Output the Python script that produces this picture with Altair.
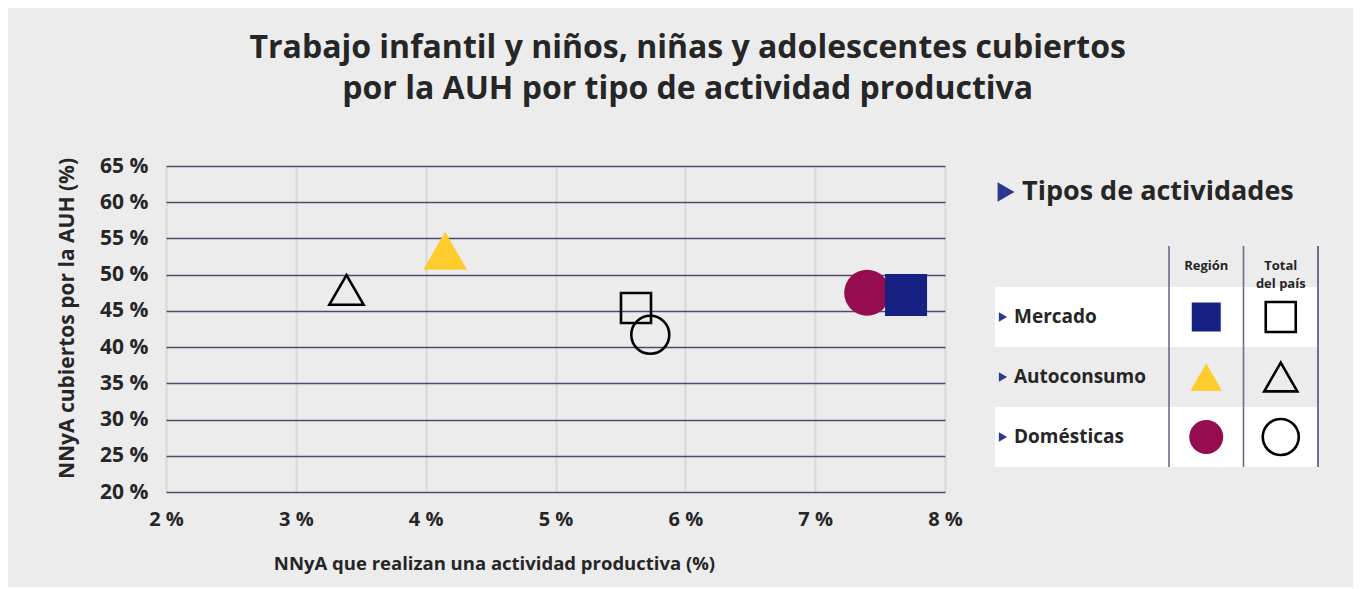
import altair as alt
import pandas as pd

# ---- data ----
tipos = ["Mercado", "Autoconsumo", "Domésticas"]
region_x = [7.70, 4.15, 7.40]
region_y = [47.2, 53.3, 47.5]
total_x = [5.62, 3.39, 5.73]
total_y = [45.4, 47.9, 41.7]
x_ticks = [2, 3, 4, 5, 6, 7, 8]
y_ticks = [20, 25, 30, 35, 40, 45, 50, 55, 60, 65]
columnas = ["Región", "Total|del país"]

titulo = ["Trabajo infantil y niños, niñas y adolescentes cubiertos",
          "por la AUH por tipo de actividad productiva"]
x_titulo = "NNyA que realizan una actividad productiva (%)"
y_titulo = "NNyA cubiertos por la AUH (%)"
leyenda_titulo = "Tipos de actividades"

# ---- styles ----
FONT = "Open Sans"
TXT = "#262626"
NAVY = "#2B3990"
BG = "#ececec"
shapes = ["square", "triangle-up", "circle"]
colores = ["#172083", "#FFCC2E", "#960C50"]
size_region = [1764, 2100, 1130]
size_total = [900, 1444, 960]
size_leg_region = [841, 1156, 804]
size_leg_total = [900, 1296, 908]

region_df = pd.DataFrame({"tipo": tipos, "x": region_x, "y": region_y}).iloc[::-1]
total_df = pd.DataFrame({"tipo": tipos, "x": total_x, "y": total_y})

W, H = 779, 326

xs = alt.Scale(domain=[x_ticks[0], x_ticks[-1]], nice=False, zero=False)
ys = alt.Scale(domain=[y_ticks[0], y_ticks[-1]], nice=False, zero=False)

xaxis = alt.Axis(values=x_ticks, labelExpr="datum.value + ' %'", title=x_titulo,
                 grid=True, gridColor="#d8d8d8", gridWidth=2, domain=False, ticks=False,
                 labelFlush=False,
                 labelFont=FONT, labelFontSize=20, labelFontWeight="bold", labelColor=TXT,
                 labelPadding=17, titleFont=FONT, titleFontSize=18.5, titleFontWeight="bold",
                 titleColor=TXT, titlePadding=25, titleX=328, titleAnchor="middle")
yaxis = alt.Axis(values=y_ticks, labelExpr="datum.value + ' %'", title=y_titulo,
                 grid=True, gridColor="#4d4b6b", gridWidth=1.5, domain=False, ticks=False,
                 labelFlush=False,
                 labelFont=FONT, labelFontSize=21, labelFontWeight="bold", labelColor=TXT,
                 labelPadding=18, titleFont=FONT, titleFontSize=21, titleFontWeight="bold",
                 titleColor=TXT, titlePadding=22, titleY=152, titleAlign="center")

shape_scale = alt.Scale(domain=tipos, range=shapes)

region_layer = alt.Chart(region_df).mark_point(filled=True, opacity=1).encode(
    x=alt.X("x:Q", scale=xs, axis=xaxis),
    y=alt.Y("y:Q", scale=ys, axis=yaxis),
    shape=alt.Shape("tipo:N", scale=shape_scale, legend=None),
    color=alt.Color("tipo:N", scale=alt.Scale(domain=tipos, range=colores), legend=None),
    size=alt.Size("tipo:N", scale=alt.Scale(domain=tipos, range=size_region), legend=None),
)
total_layer = alt.Chart(total_df).mark_point(filled=False, opacity=1, color="black",
                                             strokeWidth=2.6).encode(
    x=alt.X("x:Q", scale=xs, axis=xaxis),
    y=alt.Y("y:Q", scale=ys, axis=yaxis),
    shape=alt.Shape("tipo:N", scale=shape_scale, legend=None),
    size=alt.Size("tipo:N", scale=alt.Scale(domain=tipos, range=size_total), legend=None),
)
scatter = alt.layer(region_layer, total_layer).resolve_scale(
    size="independent").properties(width=W, height=H)

# ---- legend table panel ----
LW, LH = 323, 301
row_top, row_bot = 121, 301
xbs = alt.Scale(domain=columnas, range=[174, LW], paddingInner=0, paddingOuter=0)
ybs = alt.Scale(domain=tipos, range=[row_top, row_bot], paddingInner=0, paddingOuter=0)

filas_df = pd.DataFrame({"tipo": tipos, "fila": list(range(len(tipos)))})
cols_df = pd.DataFrame({"col": columnas})
leg_region_df = pd.DataFrame({"tipo": tipos, "col": columnas[0]})
leg_total_df = pd.DataFrame({"tipo": tipos, "col": columnas[1]})

fondo = alt.Chart(filas_df).mark_rect().encode(
    y=alt.Y("tipo:N", scale=ybs, axis=None),
    x=alt.value(0), x2=alt.value(LW),
    color=alt.condition("datum.fila % 2 == 0", alt.value("white"), alt.value(BG)),
)
lineas = alt.Chart(cols_df).mark_rule(color="#6d6b8c", strokeWidth=1.6).encode(
    x=alt.X("col:N", scale=xbs, axis=None, bandPosition=0),
    y=alt.value(80), y2=alt.value(LH),
)
linea_fin = alt.Chart(cols_df).mark_rule(color="#6d6b8c", strokeWidth=1.6).encode(
    x=alt.value(LW), y=alt.value(80), y2=alt.value(LH),
)
cabecera = alt.Chart(cols_df).transform_calculate(
    lineas="split(datum.col, '|')"
).mark_text(font=FONT, fontSize=13, fontWeight="bold", color=TXT,
            baseline="middle", lineHeight=18).encode(
    x=alt.X("col:N", scale=xbs, axis=None, bandPosition=0.5),
    y=alt.value(100),
    text="lineas:N",
)
etiquetas = alt.Chart(filas_df).mark_text(font=FONT, fontSize=19, fontWeight="bold",
                                          color=TXT, align="left", baseline="middle").encode(
    y=alt.Y("tipo:N", scale=ybs, axis=None, bandPosition=0.5),
    x=alt.value(19),
    text="tipo:N",
)
flechas = alt.Chart(filas_df).mark_point(shape="triangle-right", filled=True, color=NAVY,
                                         size=90, opacity=1).encode(
    y=alt.Y("tipo:N", scale=ybs, axis=None, bandPosition=0.5),
    x=alt.value(8),
)
leg_region = alt.Chart(leg_region_df).mark_point(filled=True, opacity=1).encode(
    x=alt.X("col:N", scale=xbs, axis=None, bandPosition=0.5),
    y=alt.Y("tipo:N", scale=ybs, axis=None, bandPosition=0.5),
    shape=alt.Shape("tipo:N", scale=shape_scale, legend=None),
    color=alt.Color("tipo:N", scale=alt.Scale(domain=tipos, range=colores), legend=None),
    size=alt.Size("tipo:N", scale=alt.Scale(domain=tipos, range=size_leg_region), legend=None),
)
leg_total = alt.Chart(leg_total_df).mark_point(filled=False, opacity=1, color="black",
                                               strokeWidth=2.6).encode(
    x=alt.X("col:N", scale=xbs, axis=None, bandPosition=0.5),
    y=alt.Y("tipo:N", scale=ybs, axis=None, bandPosition=0.5),
    shape=alt.Shape("tipo:N", scale=shape_scale, legend=None),
    size=alt.Size("tipo:N", scale=alt.Scale(domain=tipos, range=size_leg_total), legend=None),
)
ley_tit_df = pd.DataFrame({"t": [leyenda_titulo]})
ley_tit = alt.Chart(ley_tit_df).mark_text(font=FONT, fontSize=27, fontWeight="bold",
                                          color=TXT, align="left", baseline="middle").encode(
    x=alt.value(27), y=alt.value(26), text="t:N",
)
ley_flecha = alt.Chart(ley_tit_df).mark_point(shape="triangle-right", filled=True,
                                              color=NAVY, size=380, opacity=1).encode(
    x=alt.value(11), y=alt.value(26),
)

leyenda = alt.layer(fondo, lineas, linea_fin, cabecera, flechas, etiquetas,
                    leg_region, leg_total, ley_flecha, ley_tit).resolve_scale(
    size="independent").properties(width=LW, height=LH)

chart = alt.hconcat(scatter, leyenda, spacing=50, bounds="flush").resolve_scale(
    size="independent", color="independent", shape="independent"
).properties(
    title=alt.TitleParams(text=titulo, font=FONT, fontSize=32, fontWeight="bold",
                          color=TXT, anchor="middle", lineHeight=41, offset=49),
    background=BG,
    padding={"left": 48, "top": 24, "right": 34, "bottom": 14},
).configure(font=FONT).configure_view(strokeWidth=0, stroke=None, fill=None)

chart.save("out.html", embed_options={"renderer": "svg", "actions": False})
